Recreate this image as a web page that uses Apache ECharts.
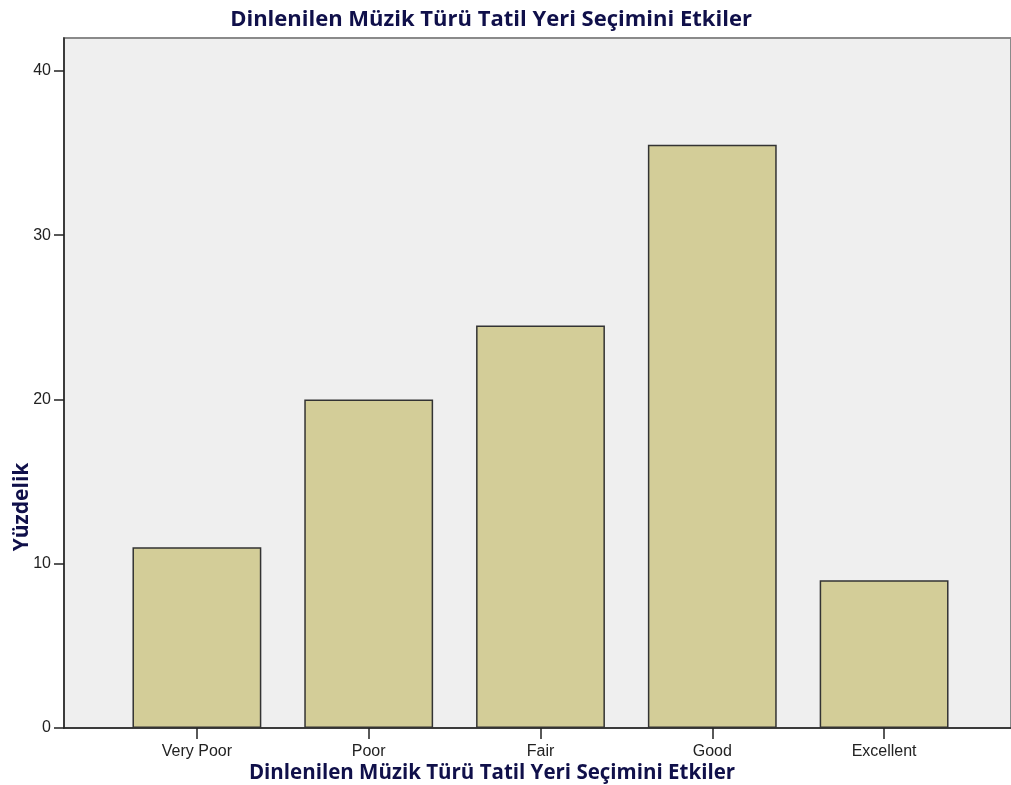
<!DOCTYPE html>
<html>
<head>
<meta charset="utf-8">
<script src="https://cdn.jsdelivr.net/npm/echarts@6/dist/echarts.min.js"></script>
<style>
html,body{margin:0;padding:0;background:#fff;}
#chart{width:1011px;height:785px;}
</style>
</head>
<body>
<div id="chart"></div>
<script>
const titleText = 'Dinlenilen Müzik Türü Tatil Yeri Seçimini Etkiler';
const xAxisTitle = 'Dinlenilen Müzik Türü Tatil Yeri Seçimini Etkiler';
const yAxisTitle = 'Yüzdelik';
const categories = ['Very Poor', 'Poor', 'Fair', 'Good', 'Excellent'];
const percentages = [11.0, 20.0, 24.5, 35.5, 9.0];
const yTicks = [0, 10, 20, 30, 40];

const chart = echarts.init(document.getElementById('chart'), null, {renderer: 'canvas'});
const labelFont = {color: '#222', fontFamily: 'Liberation Sans, Arial, sans-serif', fontSize: 16};
const headFont = {fontFamily: 'Open Sans, Noto Sans, sans-serif', fontWeight: 'bold', fill: '#10104a'};

chart.setOption({
  animation: false,
  grid: [
    {left: 64, right: -3, top: 38, bottom: 57, show: true, backgroundColor: '#efefef', borderColor: '#8a8a8a', borderWidth: 2},
    {left: 111, right: 41, top: 38, bottom: 57}
  ],
  xAxis: [
    {gridIndex: 0, type: 'value', min: 0, max: 1, axisLine: {show: true, onZero: false, lineStyle: {color: '#222', width: 1.5}},
     axisTick: {show: false}, axisLabel: {show: false}, splitLine: {show: false}},
    {gridIndex: 1, type: 'category', data: categories, axisLine: {show: false},
     axisTick: {show: true, alignWithLabel: true, length: 11, lineStyle: {color: '#222', width: 1.5}},
     axisLabel: Object.assign({margin: 16}, labelFont), splitLine: {show: false}}
  ],
  yAxis: [
    {gridIndex: 0, type: 'value', min: 0, max: 42,
     axisLine: {show: true, lineStyle: {color: '#222', width: 1.5}},
     axisTick: {show: true, length: 10, customValues: yTicks, lineStyle: {color: '#222', width: 1.5}},
     axisLabel: Object.assign({margin: 13, customValues: yTicks}, labelFont),
     splitLine: {show: false}},
    {gridIndex: 1, type: 'value', min: 0, max: 42, show: false}
  ],
  series: [{
    type: 'bar', xAxisIndex: 1, yAxisIndex: 1, data: percentages, barWidth: '75%',
    itemStyle: {color: '#d3cd98', borderColor: '#333', borderWidth: 1.5}
  }],
  graphic: [
    {type: 'text', x: 491, y: 20, style: Object.assign({text: titleText, fontSize: 22, textAlign: 'center', textVerticalAlign: 'middle'}, headFont)},
    {type: 'text', x: 492, y: 773, style: Object.assign({text: xAxisTitle, fontSize: 20.5, textAlign: 'center', textVerticalAlign: 'middle'}, headFont)},
    {type: 'text', x: 22, y: 507, rotation: Math.PI / 2,
     style: Object.assign({text: yAxisTitle, fontSize: 21, textAlign: 'center', textVerticalAlign: 'middle'}, headFont)}
  ]
});
</script>
</body>
</html>
